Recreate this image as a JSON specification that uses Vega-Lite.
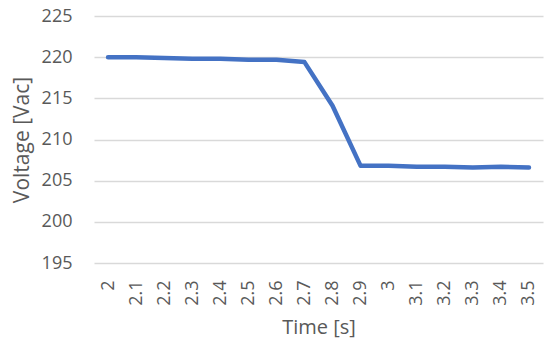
{
  "$schema": "https://vega.github.io/schema/vega-lite/v6.json",
  "autosize": "none",
  "width": 449,
  "height": 247,
  "padding": {"left": 94, "top": 16, "right": 7, "bottom": 86},
  "background": "white",
  "data": {"values": [
    {"t": "2", "v": 220.0},
    {"t": "2.1", "v": 220.0},
    {"t": "2.2", "v": 219.9},
    {"t": "2.3", "v": 219.8},
    {"t": "2.4", "v": 219.8},
    {"t": "2.5", "v": 219.7},
    {"t": "2.6", "v": 219.7},
    {"t": "2.7", "v": 219.4},
    {"t": "2.8", "v": 214.1},
    {"t": "2.9", "v": 206.8},
    {"t": "3", "v": 206.8},
    {"t": "3.1", "v": 206.7},
    {"t": "3.2", "v": 206.7},
    {"t": "3.3", "v": 206.6},
    {"t": "3.4", "v": 206.7},
    {"t": "3.5", "v": 206.6}
  ]},
  "config": {
    "view": {"stroke": null},
    "font": "Open Sans"
  },
  "mark": {"type": "line", "color": "#4472C4", "strokeWidth": 4.5, "strokeCap": "round", "strokeJoin": "round"},
  "encoding": {
    "x": {
      "field": "t", "type": "ordinal", "sort": null,
      "scale": {"type": "point", "padding": 0.5},
      "axis": {
        "title": "Time [s]", "titleFontSize": 20, "titleFontWeight": "normal", "titleColor": "#595959", "titlePadding": 12,
        "labelAngle": -90, "labelFontSize": 18, "labelColor": "#595959", "labelPadding": 17,
        "domain": false, "ticks": false, "grid": false
      }
    },
    "y": {
      "field": "v", "type": "quantitative",
      "scale": {"domain": [195, 225], "zero": false, "nice": false},
      "axis": {
        "title": "Voltage [Vac]", "titleFontSize": 21, "titleFontWeight": "normal", "titleColor": "#595959", "titlePadding": 9,
        "values": [195, 200, 205, 210, 215, 220, 225],
        "labelFontSize": 18, "labelColor": "#595959", "labelPadding": 22,
        "domain": false, "ticks": false, "gridColor": "#d9d9d9", "gridWidth": 1.3
      }
    }
  }
}
